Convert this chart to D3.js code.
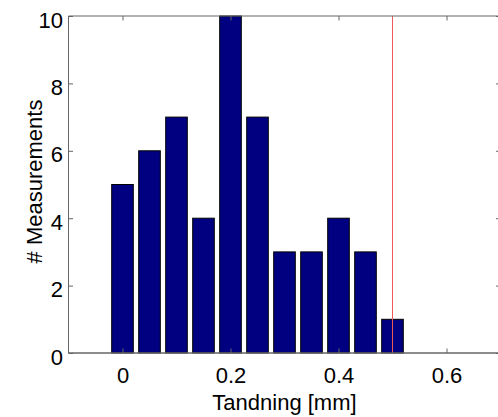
<!DOCTYPE html>
<html>
<head>
<meta charset="utf-8">
<script src="https://cdn.jsdelivr.net/npm/d3@7"></script>
<style>
  html, body { margin: 0; padding: 0; background: #fff; }
  svg { display: block; font-family: "Liberation Sans", Arial, Helvetica, sans-serif; }
</style>
</head>
<body>
<svg id="chart" width="498" height="417"></svg>
<script>
// Bin centres (mm) and counts per bin
const binCenters = [0, 0.05, 0.1, 0.15, 0.2, 0.25, 0.3, 0.35, 0.4, 0.45, 0.5];
const counts     = [5, 6, 7, 4, 10, 7, 3, 3, 4, 3, 1];
const xTicks = [0, 0.2, 0.4, 0.6];
const yTicks = [0, 2, 4, 6, 8, 10];
const xDomain = [-0.1, 0.7];
const yDomain = [0, 10];
const limitLine = 0.5;
const xLabel = "Tandning [mm]";
const yLabel = "# Measurements";

const svg = d3.select("#chart");
const plotL = 68.5, plotR = 500.5, plotT = 16, plotB = 353;

const x = d3.scaleLinear().domain(xDomain).range([plotL, plotR]);
const y = d3.scaleLinear().domain(yDomain).range([plotB, plotT]);
const binStep = binCenters[1] - binCenters[0];
const barW = x(binStep * 0.8) - x(0);

// Bars
svg.append("g").selectAll("rect")
  .data(binCenters.map((c, i) => ({ c, v: counts[i] })))
  .join("rect")
  .attr("x", d => x(d.c) - barW / 2)
  .attr("y", d => y(d.v))
  .attr("width", barW)
  .attr("height", d => y(0) - y(d.v))
  .attr("fill", "#000080")
  .attr("stroke", "#000")
  .attr("stroke-width", 1);

// Vertical limit line
svg.append("line")
  .attr("x1", x(limitLine)).attr("x2", x(limitLine))
  .attr("y1", plotT).attr("y2", plotB)
  .attr("stroke", "#ee5a5a").attr("stroke-width", 1);

// Axes box
const axisColor = "#666";
const box = svg.append("g").attr("fill", "none").attr("stroke", axisColor).attr("stroke-width", 1);
box.append("line").attr("x1", plotL).attr("x2", plotR).attr("y1", plotB).attr("y2", plotB).attr("stroke-width", 1.5);
box.append("line").attr("x1", plotL).attr("x2", plotR).attr("y1", plotT).attr("y2", plotT);
box.append("line").attr("x1", plotL).attr("x2", plotL).attr("y1", plotT).attr("y2", plotB);
box.append("line").attr("x1", plotR).attr("x2", plotR).attr("y1", plotT).attr("y2", plotB);

// Inward tick marks using d3 axes
const tickLen = 4.5;
const xAxisB = d3.axisBottom(x).tickValues(xTicks).tickSize(-tickLen).tickFormat(d3.format("~g"));
const xAxisT = d3.axisTop(x).tickValues(xTicks).tickSize(-tickLen).tickFormat("");
const yAxisL = d3.axisLeft(y).tickValues(yTicks).tickSize(-tickLen).tickFormat(d3.format("~g"));
const yAxisR = d3.axisRight(y).tickValues(yTicks).tickSize(-tickLen).tickFormat("");

function style(g) {
  g.select(".domain").remove();
  g.selectAll(".tick line").attr("stroke", axisColor);
  g.selectAll(".tick text").attr("fill", "#000").attr("font-size", 22);
}

const gxb = svg.append("g").attr("transform", `translate(0,${plotB})`).call(xAxisB).call(style);
gxb.selectAll(".tick text").attr("y", 29.5).attr("dy", null);

svg.append("g").attr("transform", `translate(0,${plotT})`).call(xAxisT).call(style);

const gyl = svg.append("g").attr("transform", `translate(${plotL},0)`).call(yAxisL).call(style);
gyl.selectAll(".tick text").attr("x", -5.5).attr("dy", null).attr("y", 11);

svg.append("g").attr("transform", `translate(${plotR},0)`).call(yAxisR).call(style);

// Axis titles
svg.append("text")
  .attr("x", (plotL + plotR) / 2).attr("y", 410)
  .attr("text-anchor", "middle").attr("font-size", 22).attr("fill", "#000")
  .text(xLabel);

svg.append("text")
  .attr("transform", `translate(42,${(plotT + plotB) / 2 - 3}) rotate(-90)`)
  .attr("text-anchor", "middle").attr("font-size", 22).attr("fill", "#000")
  .text(yLabel);
</script>
</body>
</html>
